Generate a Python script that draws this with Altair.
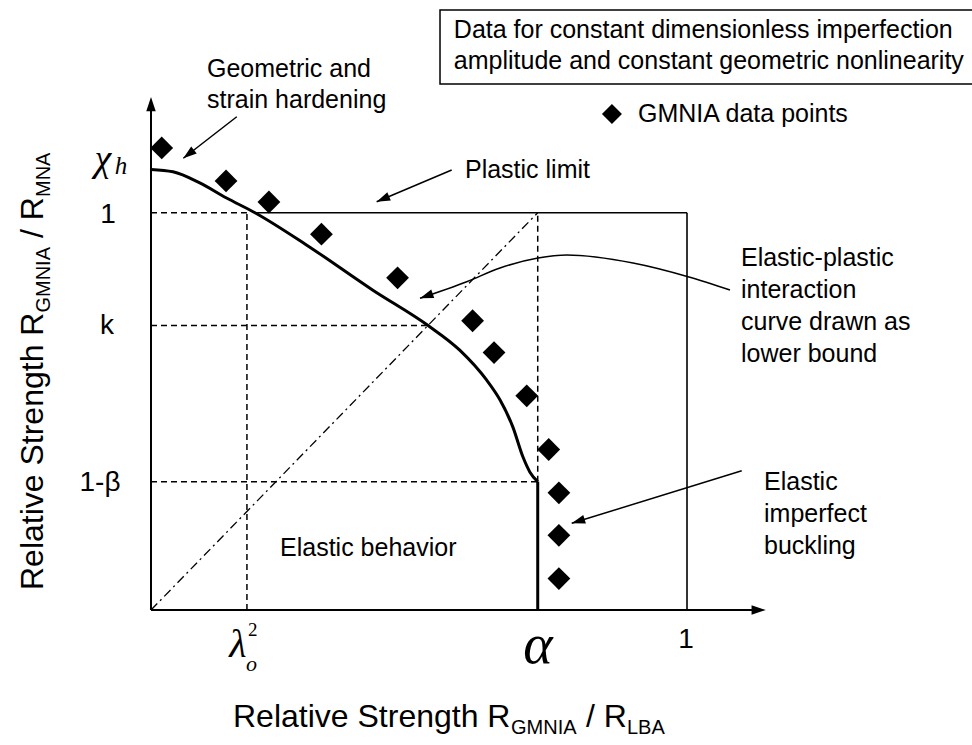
import math
import altair as alt
import pandas as pd

# ---------------- values ----------------
# GMNIA results (relative strength vs. LBA, relative strength vs. MNA)
gmnia_x = [0.020, 0.140, 0.220, 0.318, 0.460, 0.600, 0.640, 0.701, 0.742, 0.761, 0.761, 0.761]
gmnia_y = [1.163, 1.080, 1.027, 0.946, 0.836, 0.728, 0.648, 0.539, 0.404, 0.295, 0.188, 0.079]

# elastic-plastic interaction curve (lower bound)
curve_x = [0.0, 0.041, 0.091, 0.141, 0.194, 0.290, 0.414, 0.517, 0.576, 0.626, 0.651, 0.675, 0.694, 0.707, 0.7215]
curve_y = [1.109, 1.103, 1.075, 1.037, 1.000, 0.919, 0.805, 0.716, 0.654, 0.579, 0.529, 0.461, 0.385, 0.347, 0.323]

# characteristic levels
lambda_o2 = 0.179
alpha = 0.7215
k_level = 0.716
one_minus_beta = 0.323
plastic = 1.0

# ---------------- frame ----------------
W, H = 972, 745
XDOM = [-0.2817, 1.5317]
YDOM = [-0.3398, 1.5354]
PX_X = W / (XDOM[1] - XDOM[0])
PX_Y = H / (YDOM[1] - YDOM[0])

xs = alt.Scale(domain=XDOM, nice=False, zero=False)
ys = alt.Scale(domain=YDOM, nice=False, zero=False)
SANS = "Liberation Sans"
SERIF = "Liberation Serif"


def ex(f="x"):
    return alt.X(f"{f}:Q", scale=xs, axis=None)


def ey(f="y"):
    return alt.Y(f"{f}:Q", scale=ys, axis=None)


def rules(segs, **mark):
    df = pd.DataFrame(segs, columns=["x", "y", "x2", "y2"])
    return alt.Chart(df).mark_rule(color="black", **mark).encode(
        x=ex(), y=ey(), x2="x2:Q", y2="y2:Q"
    )


def heading(x0, y0, x1, y1):
    dx = (x1 - x0) * PX_X
    dy = -(y1 - y0) * PX_Y
    return math.degrees(math.atan2(dx, -dy)) % 360


HEAD = "M0,0L-1,3L1,3Z"


def heads(rows, size=64):
    df = pd.DataFrame(rows, columns=["x", "y", "angle"])
    return alt.Chart(df).mark_point(
        shape=HEAD, filled=True, color="black", opacity=1, size=size
    ).encode(x=ex(), y=ey(), angle=alt.Angle("angle:Q", scale=None))


def texts(rows, size, family=SANS, style="normal", align="left", baseline="middle", angle=0):
    df = pd.DataFrame(rows, columns=["x", "y", "t"])
    return alt.Chart(df).mark_text(
        font=family, fontSize=size, fontStyle=style, align=align,
        baseline=baseline, angle=angle, color="black"
    ).encode(x=ex(), y=ey(), text="t:N")


# ---------------- axes and reference lines ----------------
x_end, y_end = 1.147, 1.291
axes = rules([[0, 0, x_end - 0.01, 0], [0, 0, 0, y_end - 0.01]], strokeWidth=2)
axis_heads = heads([[x_end, 0, 90], [0, y_end, 0]], size=90)

box = rules([[curve_x[4], plastic, 1.0, plastic], [1.0, 0, 1.0, plastic]], strokeWidth=1.6)

dashed = rules([
    [0, plastic, lambda_o2, plastic],
    [lambda_o2, 0, lambda_o2, plastic],
    [0, k_level, curve_x[7], k_level],
    [0, one_minus_beta, alpha, one_minus_beta],
    [alpha, one_minus_beta, alpha, plastic],
], strokeWidth=1.5, strokeDash=[6, 4])

dashdot = rules([[0, 0, alpha, plastic]], strokeWidth=1.3, strokeDash=[9, 4, 2, 4])

# ---------------- interaction curve + elastic cut-off ----------------
curve_df = pd.DataFrame({"x": curve_x, "y": curve_y})
curve = alt.Chart(curve_df).mark_line(
    color="black", strokeWidth=3, interpolate="monotone"
).encode(x=ex(), y=ey())
cutoff = rules([[alpha, 0, alpha, one_minus_beta]], strokeWidth=3)

# ---------------- GMNIA points ----------------
pts_df = pd.DataFrame({"x": gmnia_x, "y": gmnia_y})
pts = alt.Chart(pts_df).mark_point(
    shape="diamond", filled=True, color="black", opacity=1, size=520
).encode(x=ex(), y=ey())

# ---------------- annotation arrows ----------------
straight = [
    [0.160, 1.2416, 0.0603, 1.137],   # hardening
    [0.561, 1.1075, 0.421, 1.0277],   # plastic limit
    [1.1021, 0.3506, 0.7849, 0.2182],  # elastic imperfect buckling
]
arrow_lines = rules(straight, strokeWidth=1.5)

bend_x = [1.0802, 1.0019, 0.8993, 0.7756, 0.7220, 0.6511, 0.5890, 0.5019]
bend_y = [0.8054, 0.8389, 0.8734, 0.8935, 0.8860, 0.8608, 0.8263, 0.7846]
bend = alt.Chart(pd.DataFrame({"x": bend_x, "y": bend_y})).mark_line(
    color="black", strokeWidth=1.5, interpolate="monotone"
).encode(x=ex(), y=ey())

head_rows = [[s[2], s[3], heading(*s)] for s in straight]
head_rows.append([bend_x[-1], bend_y[-1], heading(bend_x[-2], bend_y[-2], bend_x[-1], bend_y[-1])])
arrow_heads = heads(head_rows, size=81)

# ---------------- note box and legend ----------------
note_box = alt.Chart(pd.DataFrame({"x": [0.5392], "x2": [1.545], "y": [1.5102], "y2": [1.324]})).mark_rect(
    fill="white", stroke="black", strokeWidth=1.5
).encode(x=ex(), x2="x2:Q", y=ey(), y2="y2:Q")

legend_mark = alt.Chart(pd.DataFrame({"x": [0.860], "y": [1.2484]})).mark_point(
    shape="diamond", filled=True, color="black", opacity=1, size=400
).encode(x=ex(), y=ey())

# ---------------- text ----------------
notes = texts([
    [0.1045, 1.3617, "Geometric and"],
    [0.1045, 1.2837, "strain hardening"],
    [0.5858, 1.1075, "Plastic limit"],
    [1.1007, 0.8860, "Elastic-plastic"],
    [1.1007, 0.8054, "interaction"],
    [1.1007, 0.7248, "curve drawn as"],
    [1.1007, 0.6443, "lower bound"],
    [1.1437, 0.3222, "Elastic"],
    [1.1437, 0.2417, "imperfect"],
    [1.1437, 0.1611, "buckling"],
    [0.2407, 0.1560, "Elastic behavior"],
    [0.5650, 1.4598, "Data for constant dimensionless imperfection"],
    [0.5650, 1.3818, "amplitude and constant geometric nonlinearity"],
    [0.9086, 1.2484, "GMNIA data points"],
], 25)

ticks = texts([
    [0.998, -0.0755, "1"],
    [-0.0802, 0.9942, "1"],
    [-0.0821, 0.7148, "k"],
    [-0.0951, 0.3197, "1-β"],
], 28, align="center")

alpha_lbl = texts([[0.722, -0.0906, "α"]], 56, SERIF, "italic", align="center")
lam_lbl = texts([[0.1623, -0.088, "λ"]], 40, SERIF, "italic", align="center")
lam_sup = texts([[0.1900, -0.0503, "2"]], 19, SERIF, align="center")
lam_sub = texts([[0.1875, -0.136, "o"]], 22, SERIF, "italic", align="center")
chi_lbl = texts([[-0.0900, 1.1326, "χ"]], 38, SERIF, "italic", align="center")
chi_sub = texts([[-0.0560, 1.118, "h"]], 25, SERIF, "italic", align="center")

# axis titles built from pieces so the subscripts sit low
xt_main = texts([[0.153, -0.2945, "Relative Strength R"], [0.8116, -0.2945, "/ R"]], 32, baseline="alphabetic")
xt_sub = texts([[0.6716, -0.3121, "GMNIA"], [0.888, -0.3121, "LBA"]], 20, baseline="alphabetic")
yt_main = texts([[-0.2015, 0.0503, "Relative Strength R"], [-0.2015, 0.9363, "/ R"]], 32,
                baseline="alphabetic", angle=270)
yt_sub = texts([[-0.1884, 0.7486, "GMNIA"], [-0.1884, 1.0395, "MNA"]], 20,
               baseline="alphabetic", angle=270)

chart = alt.layer(
    note_box, dashed, dashdot, box, axes, axis_heads, curve, cutoff, pts,
    arrow_lines, bend, arrow_heads, legend_mark, notes, ticks,
    alpha_lbl, lam_lbl, lam_sup, lam_sub, chi_lbl, chi_sub,
    xt_main, xt_sub, yt_main, yt_sub,
).properties(
    width=W, height=H, padding=0, autosize=alt.AutoSizeParams(type="none"),
    background="white",
).configure_view(stroke=None)

chart.save("out.html", embed_options={"renderer": "svg", "actions": False})
